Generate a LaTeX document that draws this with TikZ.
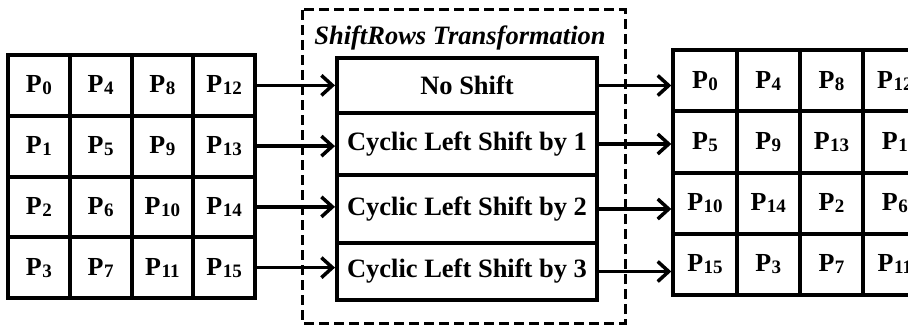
\documentclass[tikz,border=0pt]{standalone}
\usepackage{fontspec}
\setmainfont{Liberation Serif}
\usetikzlibrary{arrows.meta}
% bold P with a lowered index
\newcommand\pcell[1]{P\kern0.5pt\raisebox{-2pt}{\fontsize{19}{19}\selectfont #1}}

\begin{document}
\begin{tikzpicture}[x=1pt,y=-1pt,
  cell/.style={draw, line width=4pt, inner sep=0pt,
    font=\fontsize{26}{30}\selectfont\bfseries},
  lcell/.style={cell, minimum width=61.75pt, minimum height=60.75pt},
  rcell/.style={cell, minimum width=63.3pt, minimum height=61.25pt},
  rowbox/.style={draw, line width=4pt, inner sep=0pt, minimum width=260pt,
    font=\fontsize{26.5}{30}\selectfont\bfseries},
  link/.style={line width=3.5pt,
    -{Straight Barb[length=11pt,width=20pt,line width=3.5pt]}},
  frame/.style={line width=3pt, dash pattern=on 10pt off 5pt}]
\clip (0,0) rectangle (908,329);
\useasboundingbox (0,0) rectangle (908,329);

% input state, column-major
\foreach \r in {1,...,4}{
  \foreach \c in {1,...,4}{
    \pgfmathtruncatemacro\idx{4*(\c-1)+(\r-1)}
    \node[lcell] (l-\r-\c) at ({8+61.75*(\c-0.5)},{55+60.75*(\r-0.5)}) {\pcell{\idx}};
  }
}

% shifted state
\foreach \r in {1,...,4}{
  \foreach \c in {1,...,4}{
    \pgfmathtruncatemacro\idx{4*mod(\c+\r-2,4)+(\r-1)}
    \node[rcell] (r-\r-\c) at ({673.3+63.3*(\c-0.5)},{50+61.25*(\r-0.5)}) {\pcell{\idx}};
  }
}

% ShiftRows block
\draw[frame] (302,10) rectangle (625,323);
\node[font=\fontsize{26.5}{30}\selectfont\bfseries\itshape] (title) at (460,38) {ShiftRows Transformation};
\node[rowbox, minimum height=55pt] (b1) at (467,85.5) {No Shift};
\node[rowbox, minimum height=62pt] (b2) at (467,144) {Cyclic Left Shift by 1};
\node[rowbox, minimum height=68pt] (b3) at (467,209) {Cyclic Left Shift by 2};
\node[rowbox, minimum height=57pt] (b4) at (467,271.5) {Cyclic Left Shift by 3};

% connectors
\foreach \r in {1,...,4}{
  \draw[link] (l-\r-4.east) -- (l-\r-4.east -| b\r.west);
  \draw[link] (b\r.east) -- (b\r.east -| r-\r-1.west);
}
\end{tikzpicture}
\end{document}
